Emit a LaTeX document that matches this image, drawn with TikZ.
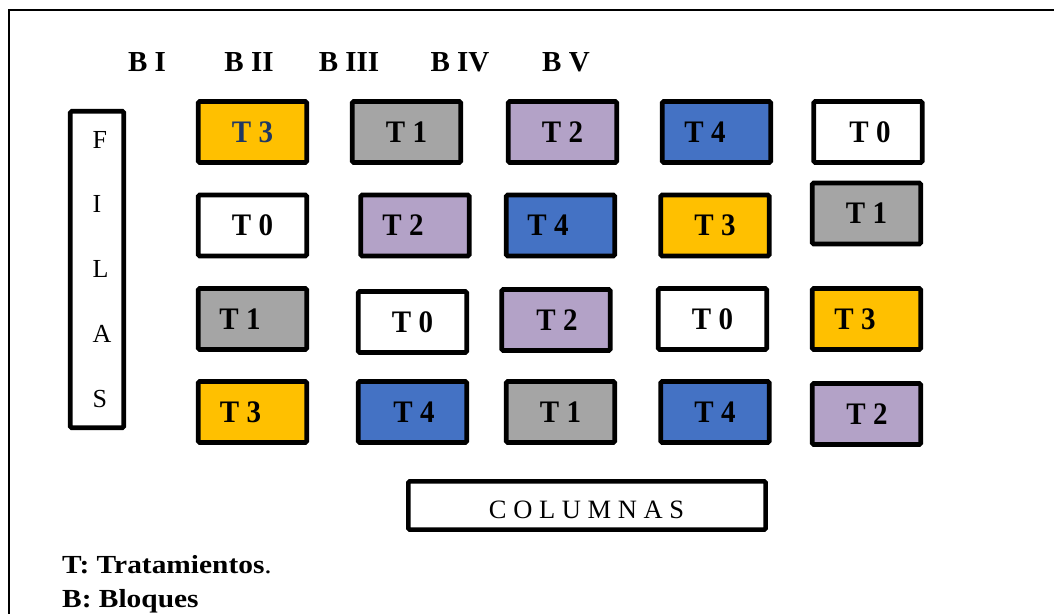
\documentclass[tikz,border=0pt]{standalone}
\usepackage{fontspec}
\setmainfont{Liberation Serif}

\definecolor{cyellow}{HTML}{FFC000}
\definecolor{cgray}{HTML}{A5A5A5}
\definecolor{clav}{HTML}{B3A2C7}
\definecolor{cblue}{HTML}{4472C4}
\definecolor{cnavy}{HTML}{1F3864}

\tikzset{
  cell/.style={draw=black, line width=4.8pt, rounded corners=1.5pt,
    minimum width=108.5pt, minimum height=61pt, inner sep=0pt},
  celltext/.style={font=\fontsize{29}{30}\selectfont\bfseries, inner sep=0pt},
  header/.style={anchor=base, inner sep=0pt, font=\fontsize{29}{30}\selectfont\bfseries},
  sidebox/.style={draw=black, line width=4.6pt, rounded corners=1.5pt, inner sep=0pt},
  sideletter/.style={anchor=base west, inner sep=0pt, font=\fontsize{26}{27}\selectfont},
  legend/.style={anchor=base west, inner sep=0pt, font=\fontsize{28}{29}\selectfont},
}

% plot: name, x, y, fill, treatment number, text shift, text colour
\newcommand\plotcell[7]{%
  \node[cell, fill=#4] (#1) at (#2,#3) {};
  \node[celltext, text=#7] (#1t) at ([xshift=#6pt]#1.center) {\scalebox{1}[1.08]{T #5}};
}

\begin{document}
\begin{tikzpicture}[x=1pt, y=-1pt]
\useasboundingbox (0,0) rectangle (1054,613);
\clip (0,0) rectangle (1054,613);

% outer frame (left and top edges)
\draw[line width=2pt] (9,620) -- (9,10) -- (1060,10);

% block headers
\node[header] (b1) at (147,71) {B I};
\node[header] (b2) at (249,71) {B II};
\node[header] (b3) at (349,71) {B III};
\node[header] (b4) at (460,71) {B IV};
\node[header] (b5) at (566,71) {B V};

% rows label
\node[sidebox, minimum width=53.5pt, minimum height=316.5pt] (filas) at (97,269.5) {};
\node[sideletter] (fF) at (92.5,148.3) {F};
\node[sideletter] (fI) at (92.5,212.7) {I};
\node[sideletter] (fL) at (92.5,277) {L};
\node[sideletter] (fA) at (92.5,342) {A};
\node[sideletter] (fS) at (92.5,407) {S};

% row 1
\plotcell{r1c1}{252.5}{132}{cyellow}{3}{0}{cnavy}
\plotcell{r1c2}{406.5}{132}{cgray}{1}{0}{black}
\plotcell{r1c3}{562.5}{132}{clav}{2}{0}{black}
\plotcell{r1c4}{716.5}{132}{cblue}{4}{-11.5}{black}
\plotcell{r1c5}{868}{132}{white}{0}{2}{black}
% row 2
\plotcell{r2c1}{252.5}{225.5}{white}{0}{0}{black}
\plotcell{r2c2}{415}{225.5}{clav}{2}{-12}{black}
\plotcell{r2c3}{560.5}{225.5}{cblue}{4}{-12.5}{black}
\plotcell{r2c4}{715}{225.5}{cyellow}{3}{0}{black}
\plotcell{r2c5}{866.5}{213.5}{cgray}{1}{0}{black}
% row 3
\plotcell{r3c1}{252.5}{319}{cgray}{1}{-12.5}{black}
\plotcell{r3c2}{412.5}{322}{white}{0}{0}{black}
\plotcell{r3c3}{556}{320}{clav}{2}{1}{black}
\plotcell{r3c4}{712.5}{319}{white}{0}{0}{black}
\plotcell{r3c5}{866.5}{319}{cyellow}{3}{-11.5}{black}
% row 4
\plotcell{r4c1}{252.5}{412}{cyellow}{3}{-12}{black}
\plotcell{r4c2}{412.5}{412}{cblue}{4}{1.5}{black}
\plotcell{r4c3}{560.5}{412}{cgray}{1}{0}{black}
\plotcell{r4c4}{715}{412}{cblue}{4}{0}{black}
\plotcell{r4c5}{866.5}{414}{clav}{2}{0.5}{black}

% columns label
\node[sidebox, minimum width=357.3pt, minimum height=48.3pt] (cols) at (587,505.5) {};
\node[anchor=base, inner sep=0pt, font=\fontsize{26.5}{27}\selectfont] (colst) at (586.5,518) {C O L U M N A S};

% legend
\node[legend] (legT) at (62,573) {\scalebox{1.05}[0.93]{\textbf{T: Tratamientos}.}};
\node[legend] (legB) at (62,607) {\scalebox{1.05}[0.93]{\textbf{B: Bloques}}};
\end{tikzpicture}
\end{document}
